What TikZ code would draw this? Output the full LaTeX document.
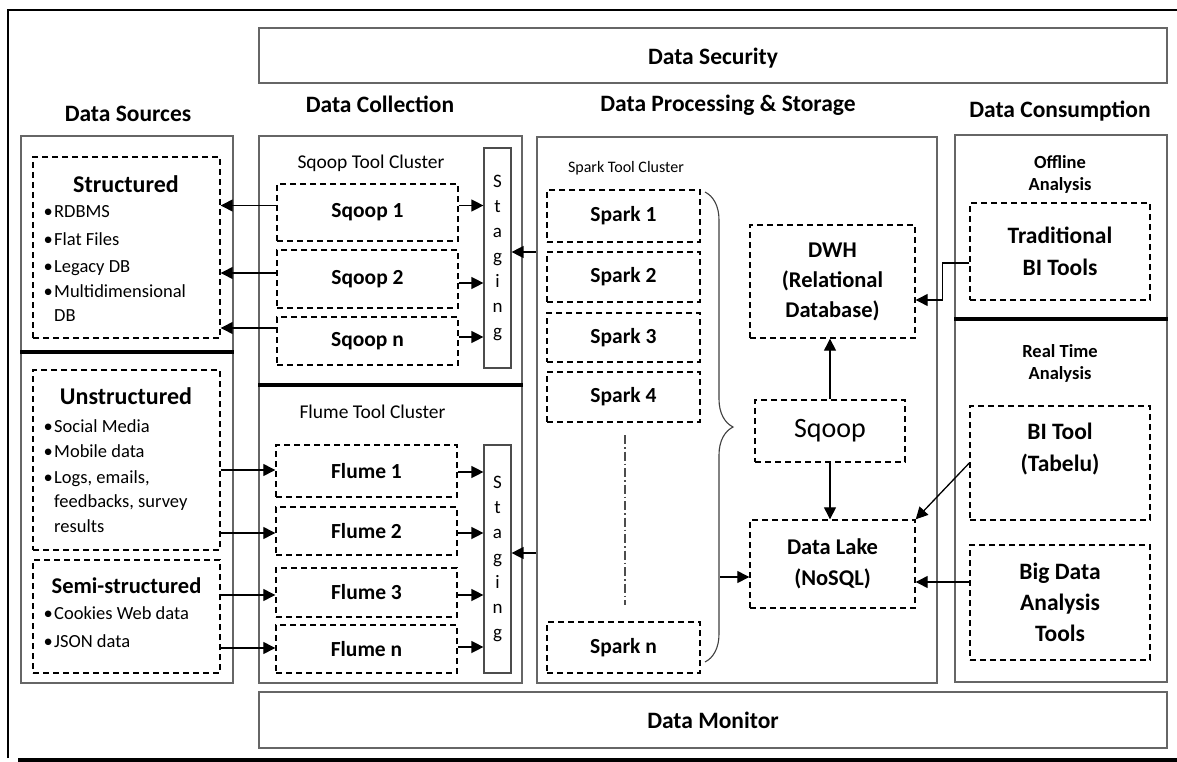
\documentclass[tikz,border=0pt]{standalone}
\usepackage{fontspec}
\setmainfont{Carlito}
\usetikzlibrary{arrows.meta,decorations.pathreplacing,calc}
\newcommand\myfs[2]{\fontsize{#1pt}{#2pt}\selectfont}
\newcommand\bul{\makebox[10.5pt][l]{•}}
\begin{document}
\begin{tikzpicture}[x=1pt,y=-1pt,
  frame/.style={draw=black!60, line width=1.6pt, inner sep=0pt},
  dbox/.style={draw=black, line width=1.4pt, dash pattern=on 6pt off 4pt, inner sep=0pt},
  sbox/.style={draw=black!70, line width=1.2pt, inner sep=0pt},
  arr/.style={line width=1.3pt, -{Triangle[length=12pt,width=12pt]}},
  sep/.style={line width=4pt},
  title/.style={font=\bfseries\myfs{23.5}{26}, anchor=base, inner sep=0pt},
  bt/.style={font=\bfseries\myfs{21.5}{31}, align=center},
  hd/.style={font=\bfseries\myfs{24}{26}, anchor=base, inner sep=0pt},
  lst/.style={font=\myfs{18.5}{24}, anchor=base west, inner sep=0pt},
  cl/.style={font=\myfs{19.5}{22}, anchor=base, inner sep=0pt},
  an/.style={font=\bfseries\myfs{18.5}{22}, align=center, inner sep=0pt},
  stg/.style={font=\myfs{19}{25}, align=center}
]
\useasboundingbox (0,0) rectangle (1177,762);
\fill[white] (0,0) rectangle (1177,762);

% outer frame
\draw[line width=1.5pt] (8,758) -- (8,10) -- (1177,10);
\draw[line width=4pt] (18,760) -- (1177,760);

% security / monitor
\node[frame, minimum width=908pt, minimum height=55pt] (sec) at (713,55.5) {};
\node[title] (secT) at (713,65) {Data Security};
\node[frame, minimum width=908pt, minimum height=56pt] (mon) at (713,720) {};
\node[title] (monT) at (713,728) {Data Monitor};

% column titles
\node[title] (tSrc) at (128,122) {Data Sources};
\node[title] (tCol) at (380,113) {Data Collection};
\node[title] (tPro) at (728,112) {Data Processing \& Storage};
\node[title] (tCon) at (1060,118) {Data Consumption};

% big column boxes
\node[frame, minimum width=212pt, minimum height=547pt] (src) at (127,409.5) {};
\node[frame, minimum width=263pt, minimum height=547pt] (col) at (390.5,409.5) {};
\node[frame, minimum width=400pt, minimum height=546pt] (proc) at (737,410) {};
\node[frame, minimum width=212pt, minimum height=547pt] (con) at (1061,408.5) {};
\draw[sep] (src.west |- 0,352) -- (src.east |- 0,352);
\draw[sep] (col.west |- 0,385) -- (col.east |- 0,385);
\draw[sep] (con.west |- 0,319) -- (con.east |- 0,319);

% data sources
\node[dbox, minimum width=187pt, minimum height=181pt] (str) at (126.5,247.5) {};
\node[hd] (strT) at (126,193) {Structured};
\node[lst] (s1) at (43.5,218) {\bul RDBMS};
\node[lst] (s2) at (43.5,245) {\bul Flat Files};
\node[lst] (s3) at (43.5,272) {\bul Legacy DB};
\node[lst] (s4) at (43.5,297) {\bul Multidimensional};
\node[lst] (s5) at (54,321) {DB};

\node[dbox, minimum width=187pt, minimum height=180pt] (uns) at (126.5,460) {};
\node[hd] (unsT) at (126,404) {Unstructured};
\node[lst] (u1) at (43.5,432) {\bul Social Media};
\node[lst] (u2) at (43.5,457) {\bul Mobile data};
\node[lst] (u3) at (43.5,483) {\bul Logs, emails,};
\node[lst] (u4) at (54,507) {feedbacks, survey};
\node[lst] (u5) at (54,532) {results};

\node[dbox, minimum width=187pt, minimum height=113pt] (semi) at (126.5,616.5) {};
\node[hd, font=\bfseries\myfs{22.5}{26}] (semiT) at (126.5,593) {Semi-structured};
\node[lst] (m1) at (43.5,619) {\bul Cookies Web data};
\node[lst] (m2) at (43.5,647) {\bul JSON data};

% data collection
\node[cl] (sqcl) at (371,168) {Sqoop Tool Cluster};
\node[dbox, bt, minimum width=181pt, minimum height=57pt] (sq1) at (367.5,212.5) {Sqoop 1};
\node[dbox, bt, minimum width=181pt, minimum height=58pt] (sq2) at (367.5,279) {Sqoop 2};
\node[dbox, bt, minimum width=181pt, minimum height=48pt] (sqn) at (367.5,341) {Sqoop n};
\node[sbox, stg, minimum width=27pt, minimum height=220pt] (stg1) at (497.5,258) {S\\t\\a\\g\\i\\n\\g};

\node[cl] (flcl) at (372.5,418) {Flume Tool Cluster};
\node[dbox, bt, minimum width=181pt, minimum height=52pt] (fl1) at (366.5,471) {Flume 1};
\node[dbox, bt, minimum width=181pt, minimum height=48pt] (fl2) at (366.5,531) {Flume 2};
\node[dbox, bt, minimum width=181pt, minimum height=49pt] (fl3) at (366.5,592.5) {Flume 3};
\node[dbox, bt, minimum width=181pt, minimum height=48pt] (fln) at (366.5,649) {Flume n};
\node[sbox, stg, minimum width=27pt, minimum height=228pt] (stg2) at (497.5,559) {S\\t\\a\\g\\i\\n\\g};

% processing
\node[cl, font=\myfs{16}{20}] (spcl) at (626,173) {Spark Tool Cluster};
\node[dbox, bt, minimum width=153pt, minimum height=52pt] (sp1) at (623.5,216) {Spark 1};
\node[dbox, bt, minimum width=153pt, minimum height=50pt] (sp2) at (623.5,277) {Spark 2};
\node[dbox, bt, minimum width=153pt, minimum height=49pt] (sp3) at (623.5,337.5) {Spark 3};
\node[dbox, bt, minimum width=153pt, minimum height=50pt] (sp4) at (623.5,397) {Spark 4};
\node[dbox, bt, minimum width=153pt, minimum height=51pt] (spn) at (623.5,647.5) {Spark n};
\coordinate (dd1) at (625,435);
\coordinate (dd2) at (625,605);
\draw[black!70, line width=1.1pt, dash pattern=on 9pt off 3pt on 1.5pt off 3pt] (dd1) -- (dd2);
\coordinate (br1) at (705,192);
\coordinate (br2) at (705,662);
\draw[black!75, line width=1.1pt, decorate, decoration={brace, amplitude=28pt}] (br1) -- (br2);

\node[dbox, bt, font=\bfseries\myfs{22.5}{30}, minimum width=165pt, minimum height=113pt] (dwh) at (832.5,281.5) {DWH\\(Relational\\Database)};
\node[dbox, font=\myfs{28}{30}, minimum width=150pt, minimum height=62pt] (sqp) at (830,431) {Sqoop};
\node[dbox, bt, font=\bfseries\myfs{22.5}{31}, minimum width=165pt, minimum height=88pt] (lake) at (832.5,564) {Data Lake\\(NoSQL)};

% consumption
\node[an] (off) at (1060,174) {Offline\\Analysis};
\node[dbox, bt, font=\bfseries\myfs{23.5}{32}, minimum width=180pt, minimum height=97pt] (trad) at (1060,251.5) {Traditional\\BI Tools};
\node[an] (rt) at (1060,363) {Real Time\\Analysis};
\node[dbox, minimum width=180pt, minimum height=114pt] (bit) at (1060,463) {};
\node[bt, font=\bfseries\myfs{23.5}{32}] (bitT) at (1060,449) {BI Tool\\(Tabelu)};
\node[dbox, bt, font=\bfseries\myfs{23.5}{31}, minimum width=180pt, minimum height=115pt] (big) at (1060,602.5) {Big Data\\Analysis\\Tools};

% connectors: sqoop
\coordinate (a1) at ($(sq1.west)+(0,-7)$);
\coordinate (a2) at ($(sq2.west)+(0,-6)$);
\coordinate (a3) at ($(sqn.west)+(0,-13)$);
\draw[arr] (a1) -- (str.east |- a1);
\draw[arr] (a2) -- (str.east |- a2);
\draw[arr] (a3) -- (str.east |- a3);
\coordinate (b1) at ($(sq1.east)+(0,-7)$);
\coordinate (b2) at ($(sq2.east)+(0,4)$);
\coordinate (b3) at ($(sqn.east)+(0,-4)$);
\draw[arr] (b1) -- (stg1.west |- b1);
\draw[arr] (b2) -- (stg1.west |- b2);
\draw[arr] (b3) -- (stg1.west |- b3);

% connectors: flume
\coordinate (c1) at ($(fl1.west)+(0,-1)$);
\coordinate (c2) at ($(fl2.west)+(0,2)$);
\coordinate (c3) at ($(fl3.west)+(0,2.5)$);
\coordinate (c4) at ($(fln.west)+(0,-1)$);
\draw[arr] (uns.east |- c1) -- (c1);
\draw[arr] (uns.east |- c2) -- (c2);
\draw[arr] (semi.east |- c3) -- (c3);
\draw[arr] (semi.east |- c4) -- (c4);
\coordinate (e1) at ($(fl1.east)+(0,1)$);
\coordinate (e2) at ($(fl2.east)+(0,2)$);
\coordinate (e3) at ($(fl3.east)+(0,2.5)$);
\coordinate (e4) at ($(fln.east)+(0,-2)$);
\draw[arr] (e1) -- (stg2.west |- e1);
\draw[arr] (e2) -- (stg2.west |- e2);
\draw[arr] (e3) -- (stg2.west |- e3);
\draw[arr] (e4) -- (stg2.west |- e4);

% connectors: processing -> staging
\coordinate (p1) at ($(proc.west)+(0,-158)$);
\coordinate (p2) at ($(proc.west)+(0,143)$);
\draw[arr] (p1) -- (stg1.east |- p1);
\draw[arr] (p2) -- (stg2.east |- p2);

% processing internals
\coordinate (brc) at (720,577);
\draw[arr] (brc) -- (lake.west |- brc);
\draw[arr] (sqp.north) -- (sqp.north |- dwh.south);
\draw[arr] (sqp.south) -- (sqp.south |- lake.north);

% consumption connectors
\coordinate (t1) at ($(trad.west)+(0,11.5)$);
\coordinate (d1) at ($(dwh.east)+(0,18.5)$);
\draw[arr] (t1) -| ($(t1)!0.5!(d1)$) |- (d1);
\draw[arr] (bit.west) -- (lake.north east);
\coordinate (g1) at ($(big.west)+(0,-20.5)$);
\draw[arr] (g1) -- (lake.east |- g1);
\end{tikzpicture}
\end{document}
